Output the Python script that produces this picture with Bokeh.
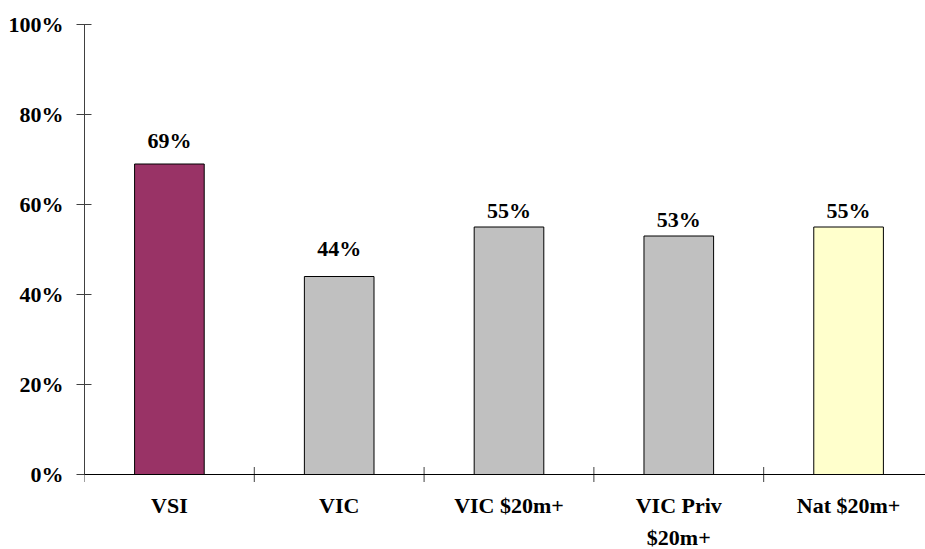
import math
from bokeh.plotting import figure
from bokeh.models import (ColumnDataSource, Range1d, FixedTicker, LinearAxis,
                          LabelSet, Span)
from bokeh.embed import file_html
from bokeh.resources import INLINE

# Share of respondents per group
categories = ["VSI", "VIC", "VIC $20m+", "VIC Priv\n$20m+", "Nat $20m+"]
values = [69, 44, 55, 53, 55]
colors = ["#993366", "#C0C0C0", "#C0C0C0", "#C0C0C0", "#FFFFCC"]
y_ticks = [0, 20, 40, 60, 80, 100]
# gap (px) between each bar's top and its value label
label_gaps = [16, 21, 9, 9, 9]

FONT = "Liberation Serif"

centers = [i + 0.5 for i in range(len(categories))]
boundaries = list(range(len(categories)))
name_lines = [c.split("\n") + [""] for c in categories]
src = ColumnDataSource(dict(
    x=centers,
    top=values,
    color=colors,
    label=[f"{v}%" for v in values],
    gap=label_gaps,
    line1=[n[0] for n in name_lines],
    line2=[n[1] for n in name_lines],
    base=[0] * len(categories),
))

# The frame runs to the bottom edge so the category names sit inside it;
# 0% stays 75px above the bottom (4.5px per percentage point).
p = figure(width=925, height=549, output_backend="svg", toolbar_location=None,
           x_range=Range1d(0, 4.953), y_range=Range1d(-75 / 4.5, 100),
           min_border_left=84, min_border_right=0, min_border_top=24,
           min_border_bottom=0, x_axis_location=None, y_axis_location=None)
p.outline_line_color = None
p.xgrid.visible = False
p.ygrid.visible = False
p.background_fill_color = "white"
p.border_fill_color = "white"

p.vbar(x="x", top="top", bottom=0, width=0.41, source=src,
       fill_color="color", line_color="black", line_width=1)

labels = LabelSet(x="x", y="top", text="label", source=src,
                  text_align="center", text_baseline="alphabetic",
                  y_offset="gap",
                  text_font=FONT, text_font_style="bold",
                  text_font_size="22px", text_color="black")
p.add_layout(labels)

# Value axis on the left, limited to 0-100%
yaxis = LinearAxis(ticker=FixedTicker(ticks=y_ticks), bounds=(0, 100),
                   major_label_overrides={t: f"{t}%" for t in y_ticks})
yaxis.axis_line_color = "#404040"
yaxis.major_tick_line_color = "#404040"
yaxis.major_tick_out = 8
yaxis.major_tick_in = 7
yaxis.minor_tick_line_color = None
yaxis.major_label_standoff = 13
yaxis.major_label_text_font = FONT
yaxis.major_label_text_font_style = "bold"
yaxis.major_label_text_font_size = "22px"
yaxis.major_label_text_color = "black"
p.add_layout(yaxis, "left")

# Category axis: baseline at 0% with tick marks between the categories
p.add_layout(Span(location=0, dimension="width", line_color="black",
                  line_width=1))
p.scatter(x=boundaries, y=[0] * len(boundaries), marker="dash",
          angle=math.pi / 2, size=15, line_color="#404040", line_width=1)

# Category names centred under the bars, each line centred on its own
name_style = dict(source=src, x="x", y="base", text_align="center",
                  text_baseline="top", text_font=FONT,
                  text_font_style="bold", text_font_size="22px",
                  text_color="black")
p.add_layout(LabelSet(text="line1", y_offset=-18, **name_style))
p.add_layout(LabelSet(text="line2", y_offset=-50, **name_style))

open("out.html", "w").write(file_html(p, INLINE))
